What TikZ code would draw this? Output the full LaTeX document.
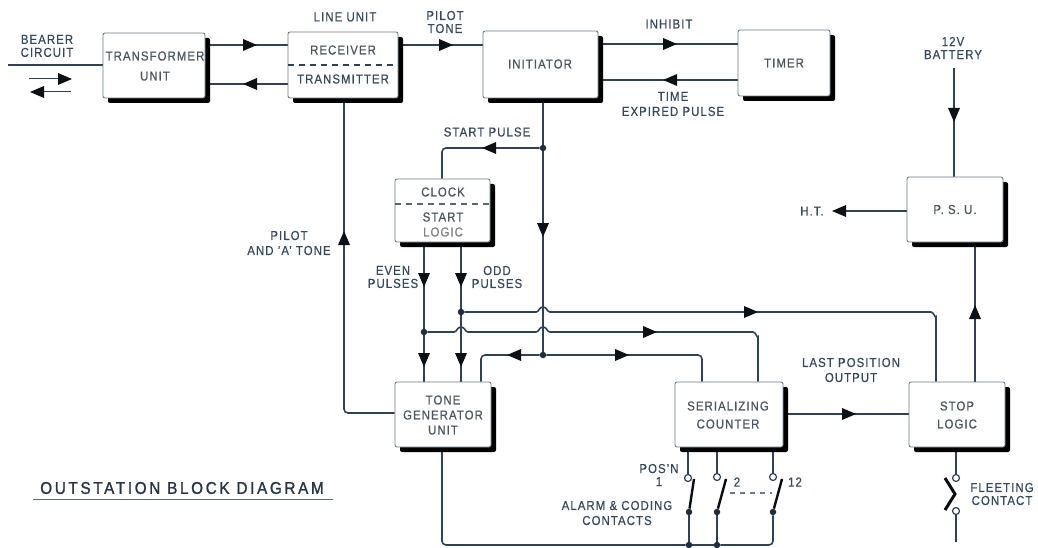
\documentclass[tikz,border=0pt]{standalone}
\usepackage{fontspec}
\setmainfont[LetterSpace=8,FakeStretch=0.88,FakeBold=0.5]{Liberation Sans}
\newfontfamily\titlefont[LetterSpace=15.5,FakeStretch=0.9,FakeBold=1.2]{Liberation Sans}
\usetikzlibrary{shadows,calc,backgrounds}
\definecolor{ink}{HTML}{2E4256}
\definecolor{txt}{HTML}{34495E}
\definecolor{boxtxt}{HTML}{4A5560}
\newcommand{\ahR}[2]{\fill[black!75!ink] (#1+7,#2) -- (#1-7,#2-6) -- (#1-7,#2+6) -- cycle;}
\newcommand{\ahL}[2]{\fill[black!75!ink] (#1-7,#2) -- (#1+7,#2-6) -- (#1+7,#2+6) -- cycle;}
\newcommand{\ahD}[2]{\fill[black!75!ink] (#1,#2+7) -- (#1-6,#2-7) -- (#1+6,#2-7) -- cycle;}
\newcommand{\ahU}[2]{\fill[black!75!ink] (#1,#2-7) -- (#1-6,#2+7) -- (#1+6,#2+7) -- cycle;}
\newcommand{\hop}[2]{-- (#1-7,#2) .. controls (#1-4,#2) and (#1-4,#2-5) .. (#1,#2-5) .. controls (#1+4,#2-5) and (#1+4,#2) .. (#1+7,#2)}
\tikzset{
  x=1pt,y=-1pt,
  blockbox/.style={draw=ink!70,line width=0.9pt,fill=white,rectangle,inner sep=0pt,rounded corners=2pt,
    drop shadow={shadow xshift=5pt,shadow yshift=-5pt,opacity=1,fill=black}},
  wire/.style={draw=ink,line width=1.6pt,rounded corners=4pt},
  lab/.style={text=txt,align=center,inner sep=0pt,font=\fontsize{13}{13}\selectfont},
  blab/.style={lab,text=boxtxt},
  jdot/.style={circle,fill=ink!70!black,inner sep=0pt,minimum size=6.5pt},
  term/.style={circle,draw=ink,fill=white,line width=1.2pt,inner sep=0pt,minimum size=7pt},
  blade/.style={draw=black!80!ink,line width=2.4pt},
}
\begin{document}
\begin{tikzpicture}
\useasboundingbox (0,0) rectangle (1038,548);
% blocks
\node[blockbox,minimum width=102pt,minimum height=65pt] (trans) at (154,65.5) {};
\node[blockbox,minimum width=110pt,minimum height=66pt] (line) at (343,65) {};
\node[blockbox,minimum width=115pt,minimum height=67pt] (init) at (540.5,64.5) {};
\node[blockbox,minimum width=92pt,minimum height=66pt] (timer) at (784,63) {};
\node[blockbox,minimum width=96pt,minimum height=65pt] (psu) at (955,209.5) {};
\node[blockbox,minimum width=95pt,minimum height=63pt] (clock) at (442.5,210.5) {};
\node[blockbox,minimum width=96pt,minimum height=65pt] (tone) at (443,414.5) {};
\node[blockbox,minimum width=108pt,minimum height=65pt] (serial) at (729,414.5) {};
\node[blockbox,minimum width=96pt,minimum height=65pt] (stop) at (957,414.5) {};
% free ends and junctions
\coordinate (bearer) at (8,65);
\coordinate (ht) at (834,211);
\coordinate (batt) at (954,68);
\node[jdot] (jstart) at (543,148) {};
\node[jdot] (jeven) at (424,332) {};
\node[jdot] (jodd) at (461,312) {};
\node[jdot] (jmid) at (543,355) {};
\node[jdot] (j1) at (689,545) {};
\node[jdot] (j2) at (717,545) {};
\node[term] (t1) at (688,478) {};
\node[term] (t2) at (717,477) {};
\node[term] (t3) at (773,477) {};
\node[jdot] (b1) at (689,512) {};
\node[jdot] (b2) at (717,512) {};
\node[jdot] (b3) at (773,512) {};
\coordinate (c3) at (773,545);
\node[term] (f1) at (956,478) {};
\node[term] (f2) at (956,511) {};
\coordinate (fend) at (956,542);
\begin{scope}[on background layer]
\draw[wire] (bearer) -- (trans.west |- bearer);
\draw[wire] (trans.east |- 0,45) -- (line.west |- 0,45);
\draw[wire] (line.west |- 0,84) -- (trans.east |- 0,84);
\draw[wire] (line.east |- 0,45) -- (init.west |- 0,45);
\draw[wire] (init.east |- 0,44) -- (timer.west |- 0,44);
\draw[wire] (timer.west |- 0,80) -- (init.east |- 0,80);
\draw[wire] (init.south -| jstart) -- (jstart);
\draw[wire] (jstart) -- (442,148) -- (clock.north -| 442,0);
\draw[wire] (jstart) -- (jmid);
\draw[wire] (clock.south -| jeven) -- (jeven);
\draw[wire] (jeven) -- (tone.north -| jeven);
\draw[wire] (clock.south -| jodd) -- (jodd);
\draw[wire] (jodd) -- (tone.north -| jodd);
\draw[wire,rounded corners=0pt] (jodd) \hop{543}{312} -- (931,312) to[out=0,in=-90] (936,317) -- (stop.north -| 936,0);
\draw[wire,rounded corners=0pt] (jeven) \hop{461}{332} \hop{543}{332} -- (753,332) to[out=0,in=-90] (758,337) -- (serial.north -| 758,0);
\draw[wire] (jmid) -- (481,355) -- (tone.north -| 481,0);
\draw[wire] (jmid) -- (702,355) -- (serial.north -| 702,0);
\draw[wire] (tone.west |- 0,413) -- (344,413) -- (line.south -| 344,0);
\draw[wire] (serial.east |- 0,414) -- (stop.west |- 0,414);
\draw[wire] (stop.north -| 975,0) -- (psu.south -| 975,0);
\draw[wire] (psu.west |- ht) -- (846,211);
\draw[wire] (batt) -- (psu.north -| batt);
\draw[wire] (serial.south -| t1) -- (t1);
\draw[wire] (serial.south -| t2) -- (t2);
\draw[wire] (serial.south -| t3) -- (t3);
\draw[wire] (tone.south -| 442,0) -- (442,545) -- (j1);
\draw[wire] (j1) -- (j2);
\draw[wire] (j2) -- (c3) -- (b3);
\draw[wire] (b1) -- (j1);
\draw[wire] (b2) -- (j2);
\draw[wire] (stop.south -| f1) -- (f1);
\draw[wire] (f2) -- (fend);
\end{scope}
% arrowheads
\ahR{250}{45} \ahL{250}{84} \ahR{446}{45} \ahR{670}{44} \ahL{670}{80}
\draw[wire,line width=1pt] (29,79) -- (62,79); \ahR{65}{79}
\draw[wire,line width=1pt] (71,92) -- (40,92); \ahL{37}{92}
\ahL{489}{148} \ahD{543}{230} \ahD{424}{280} \ahD{424}{360} \ahD{461}{280} \ahD{461}{360}
\ahR{751}{312} \ahR{650}{332} \ahL{514}{355} \ahR{622}{355} \ahU{344}{238}
\ahR{849}{414} \ahU{975}{312} \ahL{839}{211} \ahD{954}{115}
% contacts
\draw[blade] (b1) -- (694,479);
\draw[blade] (b2) -- (726,479);
\draw[blade] (b3) -- (782,479);
\draw[draw=ink!70,line width=1.3pt,dash pattern=on 5pt off 5pt] (730,493) -- (772,493);
\draw[draw=black!80!ink,line width=3pt] (945,478) -- (955,494) -- (945,510);
% dividers
\draw[draw=ink,line width=1.1pt,dash pattern=on 6pt off 5pt] (line.west |- 0,65) -- (line.east |- 0,65);
\draw[draw=ink!80,line width=1.1pt,dash pattern=on 6pt off 5pt] (clock.west |- 0,204) -- (clock.east |- 0,204);
% block texts
\node[blab] at (155,66) {TRANSFORMER\\[7pt]UNIT};
\node[blab] at (343,50) {RECEIVER};
\node[blab,text=txt] at (343,79) {TRANSMITTER};
\node[blab] at (540,64) {INITIATOR};
\node[blab] at (timer.center) {TIMER};
\node[blab] at (psu.center) {P. S. U.};
\node[blab] at (443,192) {CLOCK};
\node[blab] at (443,217) {START};
\node[blab,text=black!50] at (443,232) {LOGIC};
\node[blab] at (443,415) {TONE\\[2pt]GENERATOR\\[2pt]UNIT};
\node[blab] at (728,415) {SERIALIZING\\[5pt]COUNTER};
\node[blab] at (957,415) {STOP\\[5pt]LOGIC};
% connector labels
\node[lab] at (47,46) {BEARER\\CIRCUIT};
\node[lab] at (345,17) {LINE UNIT};
\node[lab] at (445,22) {PILOT\\TONE};
\node[lab] at (669,24) {INHIBIT};
\node[lab] at (673,104) {TIME\\[2pt]EXPIRED PULSE};
\node[lab] at (487,132) {START PULSE};
\node[lab] at (289,243) {PILOT\\[2pt]AND 'A' TONE};
\node[lab] at (393,277) {EVEN\\PULSES};
\node[lab] at (497,277) {ODD\\PULSES};
\node[lab] at (851,370) {LAST POSITION\\[2pt]OUTPUT};
\node[lab] at (812,211) {H.T.};
\node[lab] at (953,48) {12V\\BATTERY};
\node[lab] at (659,475) {POS'N\\1};
\node[lab] at (737,482) {2};
\node[lab] at (795,482) {12};
\node[lab] at (617,513) {ALARM \& CODING\\[2pt]CONTACTS};
\node[lab] at (1002,494) {FLEETING\\CONTACT};
\node[lab,font=\titlefont\fontsize{17}{17}\selectfont,text=ink!80!black] (title) at (182,488) {OUTSTATION BLOCK DIAGRAM};
\draw[draw=ink!80,line width=1.1pt] (33,499.5) -- (333,499.5);
\end{tikzpicture}
\end{document}
